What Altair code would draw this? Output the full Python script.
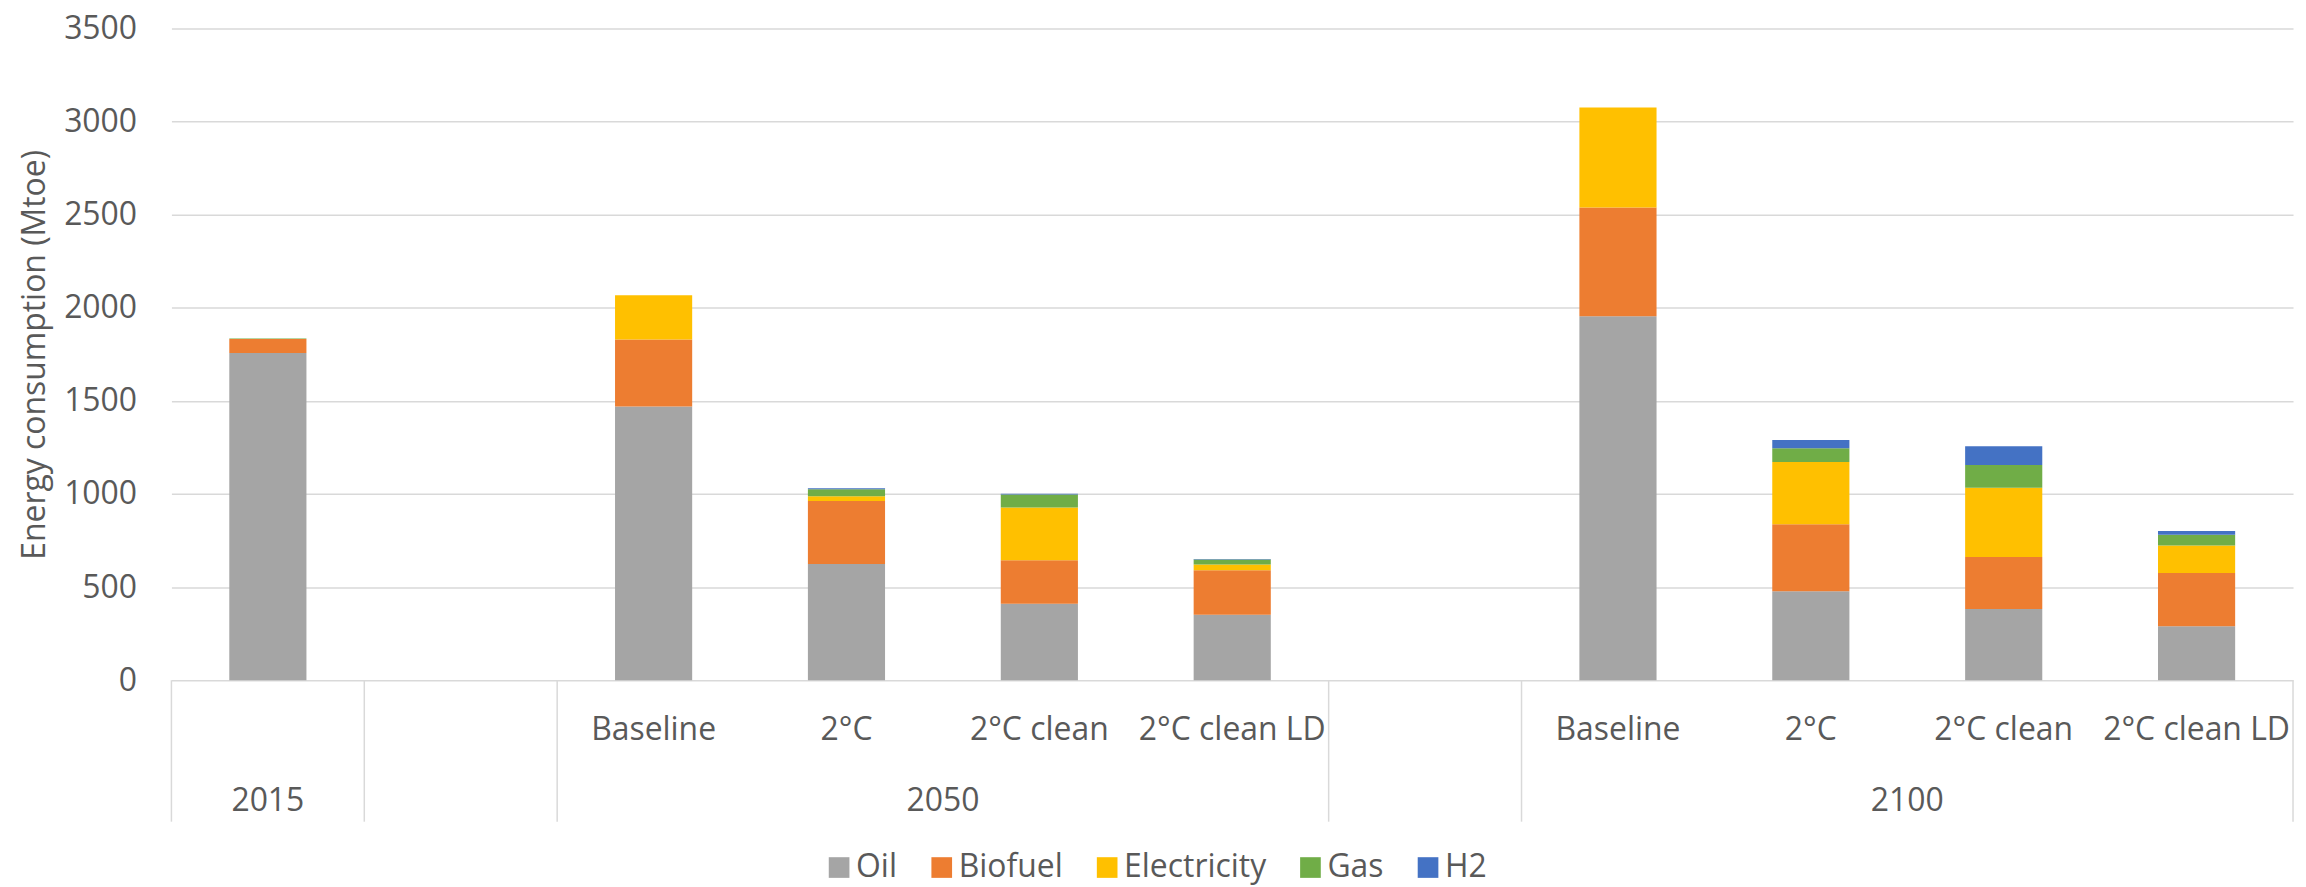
import altair as alt
import pandas as pd

# ---- data ----
slot_years = ["2015", "", "2050", "2050", "2050", "2050", "", "2100", "2100", "2100", "2100"]
slot_scen = ["", "", "Baseline", "2°C", "2°C clean", "2°C clean LD", "", "Baseline", "2°C", "2°C clean", "2°C clean LD"]
bar_slots = [0, 2, 3, 4, 5, 7, 8, 9, 10]

oil = [1757, 1470, 624, 410, 351, 1954, 478, 382, 290]
biofuel = [75, 360, 338, 234, 239, 585, 360, 279, 286]
electricity = [0, 237, 26, 284, 31, 537, 334, 372, 147]
gas = [3, 0, 38, 69, 27, 0, 74, 122, 58]
h2 = [0, 0, 5, 4, 3, 0, 44, 102, 20]

fuels = ["Oil", "Biofuel", "Electricity", "Gas", "H2"]
colors = ["#A5A5A5", "#ED7D31", "#FFC000", "#70AD47", "#4472C4"]
y_ticks = [0, 500, 1000, 1500, 2000, 2500, 3000, 3500]

# ---- tables ----
series = [oil, biofuel, electricity, gas, h2]
rows = []
for bi, s in enumerate(bar_slots):
    for fi, f in enumerate(fuels):
        rows.append({"pos": s + 0.5, "fuel": f, "order": fi, "value": series[fi][bi]})
df = pd.DataFrame(rows)

scen_df = pd.DataFrame({"pos": [i + 0.5 for i in range(len(slot_scen))], "label": slot_scen})
scen_df = scen_df[scen_df["label"] != ""]

n = len(slot_years)
bounds = [0] + [i for i in range(1, n) if slot_years[i] != slot_years[i - 1]] + [n]
div_df = pd.DataFrame({"b": bounds})

yr_rows = []
start = 0
for i in range(1, n + 1):
    if i == n or slot_years[i] != slot_years[start]:
        if slot_years[start] != "":
            yr_rows.append({"pos": (start + i) / 2, "label": slot_years[start]})
        start = i
yr_df = pd.DataFrame(yr_rows)

FONT = "Open Sans"
GREY = "#595959"
xscale = alt.Scale(domain=[0, n], nice=False, zero=False)

bars = alt.Chart(df).transform_stack(
    stack="value", groupby=["pos"], as_=["y0", "y1"], sort=[alt.SortField("order")]
).transform_calculate(
    xa="datum.pos - 0.2", xb="datum.pos + 0.2"
).mark_bar().encode(
    x=alt.X("xa:Q", scale=xscale, axis=None),
    x2="xb:Q",
    y=alt.Y("y0:Q", scale=alt.Scale(domain=[0, 3500], nice=False),
            title="Energy consumption (Mtoe)",
            axis=alt.Axis(values=y_ticks, format="d", domain=False, ticks=False, tickSize=0,
                          labelPadding=35, labelFont=FONT, labelFontSize=32, labelColor=GREY,
                          gridColor="#d9d9d9", gridWidth=1.5,
                          titleFont=FONT, titleFontSize=32, titleColor=GREY,
                          titleFontWeight="normal", titleX=-127, titleY=327,
                          titleBaseline="alphabetic", titleAlign="center", titleAngle=270)),
    y2="y1:Q",
    color=alt.Color("fuel:N", scale=alt.Scale(domain=fuels, range=colors),
                    legend=alt.Legend(title=None, orient="none", legendX=654, legendY=826,
                                      direction="horizontal", columns=5,
                                      symbolType="square", symbolSize=430, symbolStrokeWidth=0,
                                      labelFont=FONT, labelFontSize=32, labelColor=GREY,
                                      labelOffset=1, columnPadding=28, padding=0)),
)

dividers = alt.Chart(div_df).mark_rule(color="#d9d9d9", strokeWidth=1.5).encode(
    x=alt.X("b:Q", scale=xscale, axis=None),
    y=alt.value(654), y2=alt.value(796),
)

scen_text = alt.Chart(scen_df).mark_text(
    baseline="alphabetic", font=FONT, fontSize=32, color=GREY
).encode(x=alt.X("pos:Q", scale=xscale, axis=None), y=alt.value(714), text="label:N")

yr_text = alt.Chart(yr_df).mark_text(
    baseline="alphabetic", font=FONT, fontSize=32, color=GREY
).encode(x=alt.X("pos:Q", scale=xscale, axis=None), y=alt.value(785), text="label:N")

chart = alt.layer(dividers, bars, scen_text, yr_text).properties(
    width=2129, height=654,
    autosize=alt.AutoSizeParams(type="none"),
    padding={"left": 164, "top": 19, "right": 5, "bottom": 206},
).configure_view(stroke=None)

chart.save("out.html", embed_options={"renderer": "svg", "actions": False})
